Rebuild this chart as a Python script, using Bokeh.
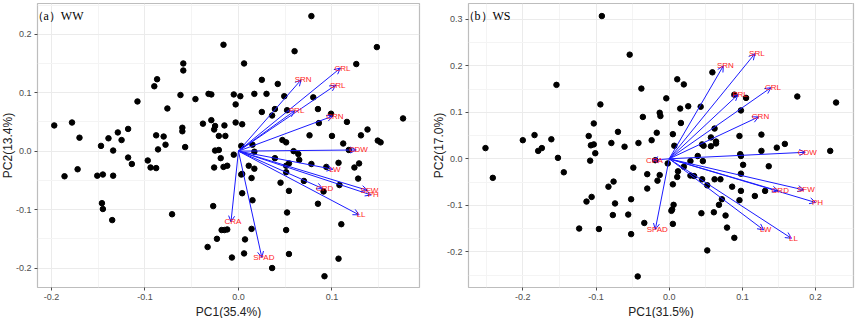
from bokeh.plotting import figure
from bokeh.layouts import row
from bokeh.models import (ColumnDataSource, Range1d, FixedTicker, Arrow, OpenHead,
                          LabelSet, Label, PrintfTickFormatter, Title)
from bokeh.core.properties import value
from bokeh.embed import file_html
from bokeh.resources import INLINE

# ---------------- data ----------------
ww_pc1 = [-0.197, -0.178, -0.170, -0.147, -0.139, -0.134, -0.129, -0.125, -0.118, -0.118,
          -0.108, -0.097, -0.090, -0.087, -0.088, -0.086, -0.080, -0.078, -0.076, -0.062,
          -0.060, -0.060, -0.059, -0.059, -0.057, -0.046, -0.038, -0.032, -0.029, -0.029,
          -0.026, -0.025, -0.025, -0.021, -0.021, -0.019, -0.016, -0.015, -0.014, -0.005,
          -0.005, -0.003, -0.003, 0.002, 0.004, 0.003, 0.006, 0.015, 0.017, 0.017,
          0.025, 0.025, 0.030, 0.036, 0.039, 0.042, 0.049, 0.047, 0.051, 0.052,
          0.060, 0.059, 0.064, 0.078, 0.080, 0.085, 0.086, 0.076, 0.100, 0.099,
          0.112, 0.116, 0.126, 0.131, 0.138, 0.148, 0.149, 0.152, 0.176, 0.118,
          -0.186, -0.172, -0.151, -0.145, -0.134, -0.146, -0.145, -0.135, -0.114, -0.094,
          -0.088, -0.071, -0.026, -0.016, -0.012, -0.027, -0.018, -0.015, -0.012, -0.023,
          -0.033, -0.007, 0.003, 0.004, 0.004, 0.007, 0.006, 0.011, 0.014, 0.015,
          0.014, 0.017, 0.036, 0.039, 0.045, 0.051, 0.051, 0.052, 0.051, 0.054,
          0.054, 0.054, 0.065, 0.070, 0.078, 0.085, 0.091, 0.092, 0.094, 0.107,
          0.108, 0.107, 0.110, 0.124, 0.129, 0.128]
ww_pc2 = [0.044, 0.049, 0.023, 0.009, 0.022, 0.001, 0.032, 0.019, 0.038, -0.011,
          0.085, -0.016, 0.111, 0.123, 0.027, 0.003, 0.025, 0.011, 0.073, 0.096,
          0.040, 0.034, 0.150, 0.138, 0.007, 0.089, 0.047, 0.098, 0.097, 0.053,
          0.037, 0.043, 0.001, 0.002, 0.026, -0.012, 0.182, 0.044, 0.026, 0.097,
          -0.006, 0.080, 0.049, 0.094, 0.046, 0.009, 0.150, 0.011, 0.098, -0.001,
          0.122, 0.067, 0.098, 0.061, 0.072, 0.115, 0.094, 0.019, 0.015, 0.070,
          0.171, 0.000, -0.005, 0.231, 0.092, 0.072, 0.048, 0.027, 0.026, 0.064,
          0.013, 0.050, 0.149, 0.027, 0.037, 0.178, 0.018, 0.015, 0.056, 0.002,
          -0.043, -0.031, -0.042, -0.040, -0.042, -0.089, -0.099, -0.118, -0.022, -0.028,
          -0.029, -0.108, -0.028, -0.027, -0.025, -0.094, -0.135, -0.135, -0.134, -0.150,
          -0.164, -0.182, -0.040, -0.039, -0.072, -0.151, -0.175, -0.025, -0.046, -0.084,
          -0.133, -0.030, -0.200, -0.012, -0.054, -0.025, -0.036, -0.105, -0.135, -0.068,
          -0.176, -0.021, -0.015, -0.051, -0.022, -0.090, -0.069, -0.214, -0.027, -0.020,
          -0.058, -0.184, -0.125, -0.028, -0.021, -0.047]

ws_pc1 = [-0.251, -0.200, -0.184, -0.179, -0.174, -0.161, -0.154, -0.152, -0.110, -0.107,
          -0.103, -0.101, -0.103, -0.094, -0.092, -0.079, -0.070, -0.061, -0.054, -0.042,
          -0.038, -0.036, -0.024, -0.017, -0.013, -0.012, -0.004, 0.005, 0.007, 0.011,
          0.015, 0.016, 0.020, 0.026, 0.039, 0.043, 0.045, 0.047, 0.057, 0.059,
          0.062, 0.057, 0.064, 0.064, 0.089, 0.098, 0.105, 0.096, 0.097, 0.098,
          0.126, 0.126, 0.147, 0.158, 0.175, 0.220, 0.228,
          -0.241, -0.144, -0.108, -0.106, -0.113, -0.083, -0.076, -0.074, -0.077, -0.096,
          -0.123, -0.056, -0.052, -0.049, -0.052, -0.043, -0.034, -0.030, -0.030, -0.016,
          -0.013, -0.019, -0.002, 0.003, 0.004, 0.006, 0.005, 0.005, 0.011, 0.012,
          0.020, 0.029, 0.029, 0.034, 0.046, 0.045, 0.044, 0.052, 0.052, 0.061,
          0.062, 0.070, 0.068, 0.072, 0.077, 0.079, 0.086, 0.089, 0.096, 0.098,
          0.098, 0.101, 0.117, 0.131, 0.136]
ws_pc2 = [0.023, 0.040, 0.051, 0.017, 0.023, 0.042, 0.159, 0.002, 0.049, 0.029,
          0.031, 0.012, 0.076, 0.117, 0.307, 0.034, 0.058, 0.026, 0.224, 0.034,
          0.151, 0.090, 0.040, 0.056, 0.099, 0.092, 0.130, 0.053, 0.028, 0.171,
          0.108, 0.077, 0.160, 0.113, 0.006, 0.112, 0.031, 0.028, 0.027, 0.186,
          0.065, 0.046, 0.037, 0.033, 0.138, 0.104, 0.131, 0.049, 0.010, 0.006,
          0.052, 0.017, 0.024, 0.032, 0.134, 0.017, 0.121,
          -0.041, -0.029, -0.004, -0.082, -0.092, -0.060, -0.049, -0.096, -0.121, -0.151,
          -0.150, -0.120, -0.087, -0.019, -0.162, -0.253, -0.138, -0.033, -0.064, -0.047,
          -0.035, -0.003, -0.010, -0.112, -0.109, -0.099, -0.055, -0.140, -0.039, -0.027,
          -0.017, -0.005, -0.036, -0.037, -0.005, -0.044, -0.117, -0.197, -0.057, -0.115,
          -0.044, -0.044, -0.099, -0.087, -0.122, -0.148, -0.060, -0.170, -0.089, -0.069,
          -0.032, -0.013, -0.080, -0.069, -0.016]

traits = ["SRN", "CRL", "SRL", "PRL", "CRN", "CDW", "LW", "SFW", "PH", "CRD", "LL", "CRA", "SPAD"]
ww_load1 = [0.067, 0.109, 0.104, 0.060, 0.101, 0.126, 0.101, 0.138, 0.142, 0.090, 0.129, -0.008, 0.025]
ww_load2 = [0.122, 0.142, 0.113, 0.069, 0.060, 0.002, -0.031, -0.067, -0.075, -0.064, -0.109, -0.121, -0.182]
ws_load1 = [0.074, 0.139, 0.117, 0.094, 0.122, 0.186, 0.129, 0.184, 0.200, 0.149, 0.167, -0.023, -0.019]
ws_load2 = [0.200, 0.153, 0.226, 0.138, 0.090, 0.014, -0.153, -0.067, -0.094, -0.069, -0.171, -0.003, -0.152]

ww_xticks = [-0.2, -0.1, 0.0, 0.1]
ww_yticks = [-0.2, -0.1, 0.0, 0.1, 0.2]
ws_xticks = [-0.2, -0.1, 0.0, 0.1, 0.2]
ws_yticks = [-0.2, -0.1, 0.0, 0.1, 0.2, 0.3]

SANS = "Liberation Sans"


def minors(ticks):
    step = ticks[1] - ticks[0]
    out = [t - step / 2 for t in ticks] + [ticks[-1] + step / 2]
    return [round(v, 3) for v in out]


def panel(pc1, pc2, l1, l2, xr, yr, xt, yt, xlabel, ylabel, title, mleft, mright):
    p = figure(width=428, height=318, output_backend="svg", toolbar_location=None,
               x_range=Range1d(*xr), y_range=Range1d(*yr),
               min_border_left=mleft, min_border_right=mright,
               min_border_top=3, min_border_bottom=30)
    p.background_fill_color = "white"
    p.border_fill_color = "white"
    p.outline_line_color = "#BDBDBD"
    p.outline_line_width = 1.2
    p.xaxis.ticker = FixedTicker(ticks=xt, minor_ticks=minors(xt))
    p.yaxis.ticker = FixedTicker(ticks=yt, minor_ticks=minors(yt))
    for ax in (p.xaxis, p.yaxis):
        ax.formatter = PrintfTickFormatter(format="%.1f")
        ax.axis_line_color = None
        ax.major_tick_line_color = "#4D4D4D"
        ax.major_tick_out = 3
        ax.major_tick_in = 0
        ax.minor_tick_line_color = None
        ax.major_label_text_font = SANS
        ax.major_label_text_font_size = "9px"
        ax.major_label_text_color = "#4D4D4D"
        ax.major_label_standoff = 2
    for g in (p.xgrid, p.ygrid):
        g.grid_line_color = "#EBEBEB"
        g.grid_line_width = 1
        g.minor_grid_line_color = "#F4F4F4"
        g.minor_grid_line_width = 1

    # axis titles as side titles stacked outside the axes
    p.add_layout(Title(text=xlabel, align="center", text_font=SANS, text_font_size="12px",
                       text_font_style="normal", text_color="#222222", standoff=0, offset=0),
                 "below")
    p.add_layout(Title(text=ylabel, align="center", text_font=SANS, text_font_size="12px",
                       text_font_style="normal", text_color="#222222", standoff=-4, offset=0),
                 "left")

    p.scatter(pc1, pc2, size=5.5, color="black")

    src = ColumnDataSource(dict(x0=[0.0] * len(l1), y0=[0.0] * len(l1), x1=l1, y1=l2, name=traits))
    p.add_layout(Arrow(end=OpenHead(size=6, line_color="#1A1AFF", line_width=1),
                       x_start="x0", y_start="y0", x_end="x1", y_end="y1",
                       line_color="#1A1AFF", line_width=1, source=src))
    p.add_layout(LabelSet(x="x1", y="y1", text="name", source=src, x_offset=2,
                          text_align="center", text_baseline="middle",
                          text_color="#FF1A1A", text_font=value(SANS),
                          text_font_size=value("8px")))
    p.add_layout(Label(x=xr[0], y=yr[1], x_units="data", y_units="data", text=title,
                       x_offset=-6, y_offset=-5, text_align="left", text_baseline="top",
                       text_font="Liberation Serif", text_font_size="12px",
                       text_color="black"))
    return p


p1 = panel(ww_pc1, ww_pc2, ww_load1, ww_load2, (-0.2149, 0.1936), (-0.2333, 0.2526),
           ww_xticks, ww_yticks, "PC1(35.4%)", "PC2(13.4%)", "（a）WW", 35, 9)
p2 = panel(ws_pc1, ws_pc2, ws_load1, ws_load2, (-0.2742, 0.2518), (-0.2768, 0.334),
           ws_xticks, ws_yticks, "PC1(31.5%)", "PC2(17.0%)", "（b）WS", 40, 3)

layout = row(p1, p2, spacing=0)
open("out.html", "w").write(file_html(layout, INLINE))
